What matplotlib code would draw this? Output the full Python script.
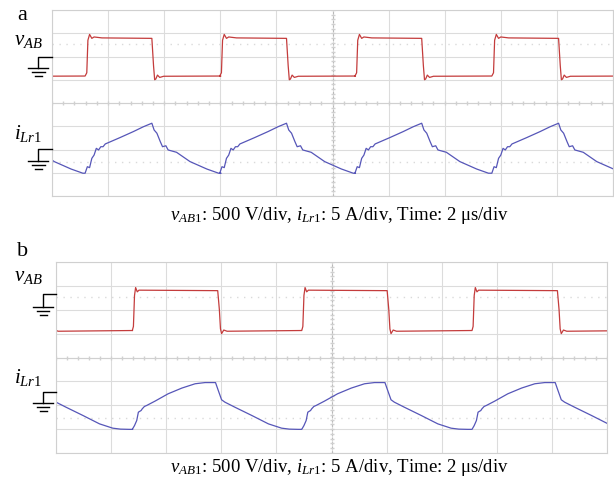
import numpy as np
import matplotlib.pyplot as plt
from matplotlib.lines import Line2D

plt.rcParams['font.family'] = 'Liberation Serif'
plt.rcParams['mathtext.fontset'] = 'custom'
plt.rcParams['mathtext.rm'] = 'Liberation Serif'
plt.rcParams['mathtext.it'] = 'Liberation Serif:italic'

########################################
#   Scope data (div units, time measured from each rising edge)
########################################

# panel a
a_edges = [-1.83, 0.59, 2.99, 5.40, 7.84]
a_v_t = [0, 0.03, 0.05, 0.08, 0.12, 0.16, 0.30, 1.19, 1.22, 1.24, 1.26, 1.29, 1.33, 1.40, 2.42]
a_v = [1.16, 1.3, 2.7, 2.95, 2.78, 2.84, 2.80, 2.78, 1.6, 1.0, 1.03, 1.2, 1.1, 1.15, 1.16]
a_i_t = [0, 0.04, 0.08, 0.12, 0.16, 0.20, 0.24, 0.28, 0.32, 0.36, 0.39, 0.62, 0.86, 1.04, 1.19,
         1.23, 1.28, 1.34, 1.38, 1.44, 1.48, 1.63, 1.87, 2.17, 2.38, 2.42]
a_i = [-3.02, -2.74, -2.78, -2.38, -2.24, -1.95, -2.02, -1.88, -1.88, -1.76, -1.73, -1.49, -1.23,
       -1.02, -0.87, -1.16, -1.30, -1.66, -1.88, -1.84, -2.02, -2.12, -2.52, -2.84, -3.02, -3.02]

# panel b
b_edges = [-1.68, 1.385, 4.46, 7.55]
b_v_t = [0, 0.02, 0.04, 0.06, 0.09, 0.12, 1.55, 1.58, 1.60, 1.62, 1.66, 1.72, 3.07]
b_v = [1.13, 1.3, 2.6, 2.93, 2.75, 2.82, 2.80, 2.0, 1.2, 1.0, 1.15, 1.1, 1.13]
b_i_t = [0, 0.04, 0.08, 0.11, 0.16, 0.18, 0.22, 0.26, 0.41, 0.65, 0.90, 1.14, 1.32, 1.51,
         1.56, 1.62, 1.68, 1.74, 1.86, 2.17, 2.47, 2.71, 2.85, 3.01, 3.07]
b_i = [-3.01, -2.85, -2.64, -2.29, -2.22, -2.15, -2.05, -2.01, -1.83, -1.52, -1.28, -1.10, -1.05,
       -1.05, -1.38, -1.77, -1.87, -1.94, -2.08, -2.43, -2.78, -2.96, -3.0, -3.01, -3.01]

caption = r'$v_{\mathit{AB1}}$: 500 V/div, $i_{\mathit{Lr1}}$: 5 A/div, Time: 2 μs/div'

W, H = 614, 487
fig = plt.figure(figsize=(W / 100, H / 100), dpi=100)


def px(x, y):
    return x / W, 1 - y / H


def trace(edges, tt, vv):
    xs, ys = [], []
    for e in edges:
        xs += [e + t for t in tt]
        ys += vv
    return xs, ys


def scope(box, edges, vt, v, it, i):
    l, t, r, b = box
    ax = fig.add_axes([l / W, 1 - b / H, (r - l) / W, (b - t) / H])
    ax.set_xlim(0, 10)
    ax.set_ylim(-4, 4)
    ax.set_xticks(range(11))
    ax.set_yticks(range(-4, 5))
    ax.tick_params(length=0, labelbottom=False, labelleft=False)
    ax.grid(color='#dcdcdc', linewidth=0.8)
    for s in ax.spines.values():
        s.set_color('#d0d0d0')
    ax.axvline(5, color='#b8b8b8', linestyle=(0, (2, 2)), linewidth=0.8)
    ax.axhline(0, color='#d0d0d0', linewidth=0.8)
    ticks = np.arange(0, 10.01, 0.2)
    ax.plot(ticks, np.zeros_like(ticks), '|', color='#d0d0d0', markersize=2.5)
    ax.plot(np.full(41, 5), np.arange(-4, 4.01, 0.2), '_', color='#d0d0d0', markersize=2.5)
    for yy in (2.55, -2.55):
        ax.axhline(yy, color='#dadada', linestyle=(0, (1, 4)), linewidth=1.0)
    x, y = trace(edges, vt, v)
    ax.plot(x, y, color='#c43c3c', linewidth=0.9)
    x, y = trace(edges, it, i)
    ax.plot(x, y, color='#5656b8', linewidth=0.9)
    return ax


def ground(x0, x1, ys, yg):
    # step line from the trace marker down to the ground sign
    fig.add_artist(Line2D([px(x1, 0)[0], px(x0, 0)[0], px(x0, 0)[0]],
                          [px(0, ys)[1], px(0, ys)[1], px(0, yg)[1]],
                          transform=fig.transFigure, color='black', linewidth=1.0))
    for k, hw in enumerate([10, 6.5, 3.5]):
        yy = yg + 4 * k
        fig.add_artist(Line2D([px(x0 - hw, 0)[0], px(x0 + hw, 0)[0]],
                              [px(0, yy)[1], px(0, yy)[1]],
                              transform=fig.transFigure, color='black', linewidth=1.0))


scope((52, 10, 613, 196), a_edges, a_v_t, a_v, a_i_t, a_i)
scope((56, 262, 607, 453), b_edges, b_v_t, b_v, b_i_t, b_i)

ground(38, 52, 57, 68)
ground(38, 52, 149, 161)
ground(43, 56, 294, 307)
ground(43, 56, 392, 403)

fig.text(*px(17, 16), 'a', fontsize=16, va='center', ha='left')
fig.text(*px(17, 252), 'b', fontsize=16, va='center', ha='left')
for yy in (40, 277):
    fig.text(*px(14, yy), r'$v_{\mathit{AB}}$', fontsize=15, va='center', ha='left')
for yy in (133, 377):
    fig.text(*px(14, yy), r'$i_{\mathit{Lr1}}$', fontsize=15, va='center', ha='left')

fig.text(*px(339, 216), caption, fontsize=13.5, ha='center', va='center')
fig.text(*px(339, 467), caption, fontsize=13.5, ha='center', va='center')

plt.savefig('out.png', dpi=100)
